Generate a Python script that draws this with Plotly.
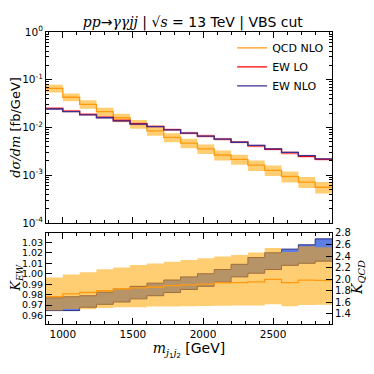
import plotly.graph_objects as go

# bin edges in m_j1j2 [GeV]
edges = [880, 1000, 1120, 1240, 1360, 1480, 1600, 1720, 1840, 1960,
         2080, 2200, 2320, 2440, 2560, 2680, 2800, 2920]

# top panel: dsigma/dm [fb/GeV]
qcd_nlo = [0.066, 0.043, 0.0306, 0.0214, 0.016, 0.0118, 0.0085, 0.0062, 0.0047,
           0.00355, 0.00265, 0.00214, 0.00162, 0.00126, 0.00094, 0.00072, 0.00056]
qcd_nlo_up = [0.079, 0.0516, 0.037, 0.0259, 0.0195, 0.0144, 0.01045, 0.0076, 0.00583,
              0.0044, 0.00331, 0.00268, 0.00204, 0.00159, 0.00119, 0.000914, 0.000717]
qcd_nlo_dn = [0.0541, 0.0353, 0.0248, 0.0173, 0.0128, 0.00944, 0.00672, 0.0049, 0.00367,
              0.00277, 0.00204, 0.00165, 0.00123, 0.00096, 0.000705, 0.00054, 0.000414]

ew_lo = [0.0251, 0.022, 0.0188, 0.0164, 0.014, 0.012, 0.0105, 0.009, 0.0076,
         0.0066, 0.0057, 0.0049, 0.0041, 0.0035, 0.00295, 0.0025, 0.00214]
ew_lo_up = [0.0268, 0.0235, 0.0201, 0.0175, 0.015, 0.0128, 0.0112, 0.0096, 0.0081,
            0.0071, 0.0061, 0.0052, 0.0044, 0.0037, 0.0032, 0.0027, 0.0023]
ew_lo_dn = [0.0234, 0.0205, 0.0175, 0.0153, 0.013, 0.0112, 0.0098, 0.0084, 0.0071,
            0.0061, 0.0053, 0.0046, 0.0038, 0.0033, 0.0027, 0.0023, 0.002]
ew_nlo = [0.0244, 0.0214, 0.0183, 0.016, 0.0137, 0.0118, 0.0104, 0.0089, 0.0076,
          0.0066, 0.0057, 0.0049, 0.0042, 0.00355, 0.0030, 0.00257, 0.0022]

# bottom panel: K factors
k_ew_up = [0.977, 0.978, 0.979, 0.9825, 0.9855, 0.988, 0.991, 0.994, 0.997,
           1.000, 1.004, 1.009, 1.0155, 1.020, 1.0235, 1.0276, 1.0333]
k_ew_dn = [0.9648, 0.9648, 0.968, 0.9708, 0.973, 0.976, 0.979, 0.982, 0.985,
           0.988, 0.992, 0.997, 1.0005, 1.004, 1.008, 1.010, 1.012]
k_qcd = [1.70, 1.745, 1.77, 1.80, 1.83, 1.85, 1.865, 1.89, 1.90,
         1.915, 1.935, 1.94, 1.955, 1.995, 1.94, 1.985, 1.98]
k_qcd_up = [2.03, 2.08, 2.12, 2.17, 2.20, 2.245, 2.27, 2.30, 2.33,
            2.36, 2.39, 2.42, 2.46, 2.54, 2.47, 2.57, 2.55]
k_qcd_dn = [1.457, 1.486, 1.48, 1.503, 1.514, 1.514, 1.526, 1.528, 1.531,
            1.538, 1.54, 1.543, 1.545, 1.566, 1.531, 1.555, 1.56]

log_ticks = [1e-4, 1e-3, 1e-2, 1e-1, 1]
log_labels = ['10<sup>-4</sup>', '10<sup>-3</sup>', '10<sup>-2</sup>', '10<sup>-1</sup>', '10<sup>0</sup>']

SERIF = "font-family:'DejaVu Serif'"


def steps(vals):
    # repeat last value so the hv step covers the final bin
    return list(vals) + [vals[-1]]


def math(s):
    return f"<span style=\"{SERIF}\"><i>{s}</i></span>"


fig = go.Figure()

# ---- top panel ----
fig.add_trace(go.Scatter(x=edges, y=steps(qcd_nlo_dn), mode='lines', line=dict(width=0, shape='hv'),
                         showlegend=False, hoverinfo='skip', xaxis='x', yaxis='y'))
fig.add_trace(go.Scatter(x=edges, y=steps(qcd_nlo_up), mode='lines', line=dict(width=0, shape='hv'),
                         fill='tonexty', fillcolor='rgba(255,165,0,0.55)',
                         showlegend=False, hoverinfo='skip', xaxis='x', yaxis='y'))
fig.add_trace(go.Scatter(x=edges, y=steps(qcd_nlo), mode='lines', name='QCD NLO',
                         line=dict(color='#ff9a10', width=1.3, shape='hv'), xaxis='x', yaxis='y'))

fig.add_trace(go.Scatter(x=edges, y=steps(ew_lo_dn), mode='lines', line=dict(width=0, shape='hv'),
                         showlegend=False, hoverinfo='skip', xaxis='x', yaxis='y'))
fig.add_trace(go.Scatter(x=edges, y=steps(ew_lo_up), mode='lines', line=dict(width=0, shape='hv'),
                         fill='tonexty', fillcolor='rgba(255,60,60,0.28)',
                         showlegend=False, hoverinfo='skip', xaxis='x', yaxis='y'))
fig.add_trace(go.Scatter(x=edges, y=steps(ew_lo), mode='lines', name='EW LO',
                         line=dict(color='red', width=1.3, shape='hv'), xaxis='x', yaxis='y'))
fig.add_trace(go.Scatter(x=edges, y=steps(ew_nlo), mode='lines', name='EW NLO',
                         line=dict(color='#3a2f92', width=1.3, shape='hv'), xaxis='x', yaxis='y'))

# ---- bottom panel ----
fig.add_trace(go.Scatter(x=edges, y=steps(k_ew_dn), mode='lines',
                         line=dict(color='#2a2a80', width=1, shape='hv'),
                         showlegend=False, hoverinfo='skip', xaxis='x2', yaxis='y2'))
fig.add_trace(go.Scatter(x=edges, y=steps(k_ew_up), mode='lines',
                         line=dict(color='#2a2a80', width=1, shape='hv'),
                         fill='tonexty', fillcolor='rgba(65,105,225,0.85)',
                         showlegend=False, hoverinfo='skip', xaxis='x2', yaxis='y2'))

fig.add_trace(go.Scatter(x=edges, y=steps(k_qcd_dn), mode='lines', line=dict(width=0, shape='hv'),
                         showlegend=False, hoverinfo='skip', xaxis='x2', yaxis='y3'))
fig.add_trace(go.Scatter(x=edges, y=steps(k_qcd_up), mode='lines', line=dict(width=0, shape='hv'),
                         fill='tonexty', fillcolor='rgba(255,165,0,0.55)',
                         showlegend=False, hoverinfo='skip', xaxis='x2', yaxis='y3'))
fig.add_trace(go.Scatter(x=edges, y=steps(k_qcd), mode='lines',
                         line=dict(color='#ff9a10', width=1.3, shape='hv'),
                         showlegend=False, xaxis='x2', yaxis='y3'))

axis_common = dict(showline=True, linecolor='black', linewidth=1, ticks='inside',
                   ticklen=6, tickcolor='black', showgrid=False, zeroline=False,
                   automargin=False, tickfont=dict(size=10.5, color='black'))
x_common = dict(axis_common, range=[880, 2920], tick0=0, dtick=500, mirror='ticks',
                minor=dict(ticks='inside', ticklen=3, dtick=100, tickcolor='black', showgrid=False))

minor_log = [m * 10 ** e for e in range(-4, 0) for m in range(2, 10)]

# the page body adds an 8 px offset, so the figure is 8 px smaller than the window
fig.update_layout(
    template='none',
    width=366, height=366,
    margin=dict(l=38, r=42, t=24, b=50, autoexpand=False),
    paper_bgcolor='white', plot_bgcolor='white',
    font=dict(family='DejaVu Sans', color='black'),
    title=dict(text=math('pp') + '→' + math('γγjj') + ' | √' + math('s') + ' = 13 TeV | VBS cut',
               x=0.505, xanchor='center', y=0.962, yanchor='middle', font=dict(size=14)),
    showlegend=True,
    legend=dict(x=0.99, xanchor='right', y=0.995, yanchor='top', bgcolor='rgba(0,0,0,0)',
                font=dict(size=11), itemwidth=30, tracegroupgap=0, traceorder='normal'),
    xaxis=dict(x_common, anchor='y', showticklabels=False),
    yaxis=dict(axis_common, type='log', range=[-4, 0], domain=[0.346, 1], mirror='ticks',
               tickvals=log_ticks, ticktext=log_labels,
               minor=dict(ticks='inside', ticklen=3, tickvals=minor_log, tickcolor='black', showgrid=False),
               title=dict(text=math('dσ/dm') + ' [fb/GeV]', font=dict(size=13), standoff=4)),
    xaxis2=dict(x_common, anchor='y2',
                title=dict(text=math('m') + '<sub>' + math('j') + '<sub>1</sub>' + math('j') +
                           '<sub>2</sub></sub> [GeV]', font=dict(size=14), standoff=2)),
    yaxis2=dict(axis_common, range=[0.952, 1.039], domain=[0, 0.312], dtick=0.01, tick0=0,
                tickformat='.2f', anchor='x2', tickfont=dict(size=9.5, color='black')),
    yaxis3=dict(axis_common, range=[1.225, 2.8], overlaying='y2', side='right', anchor='x2',
                dtick=0.2, tick0=0, tickformat='.1f', tickfont=dict(size=10, color='black')),
    annotations=[
        dict(text=math('K') + '<sub>' + math('EW') + '</sub>', textangle=-90, showarrow=False,
             xref='paper', yref='paper', x=-0.102, y=0.158, xanchor='center', yanchor='middle',
             font=dict(size=13)),
        dict(text=math('K') + '<sub>' + math('QCD') + '</sub>', textangle=-90, showarrow=False,
             xref='paper', yref='paper', x=1.091, y=0.158, xanchor='center', yanchor='middle',
             font=dict(size=14)),
    ],
)

fig.write_html("out.html")
